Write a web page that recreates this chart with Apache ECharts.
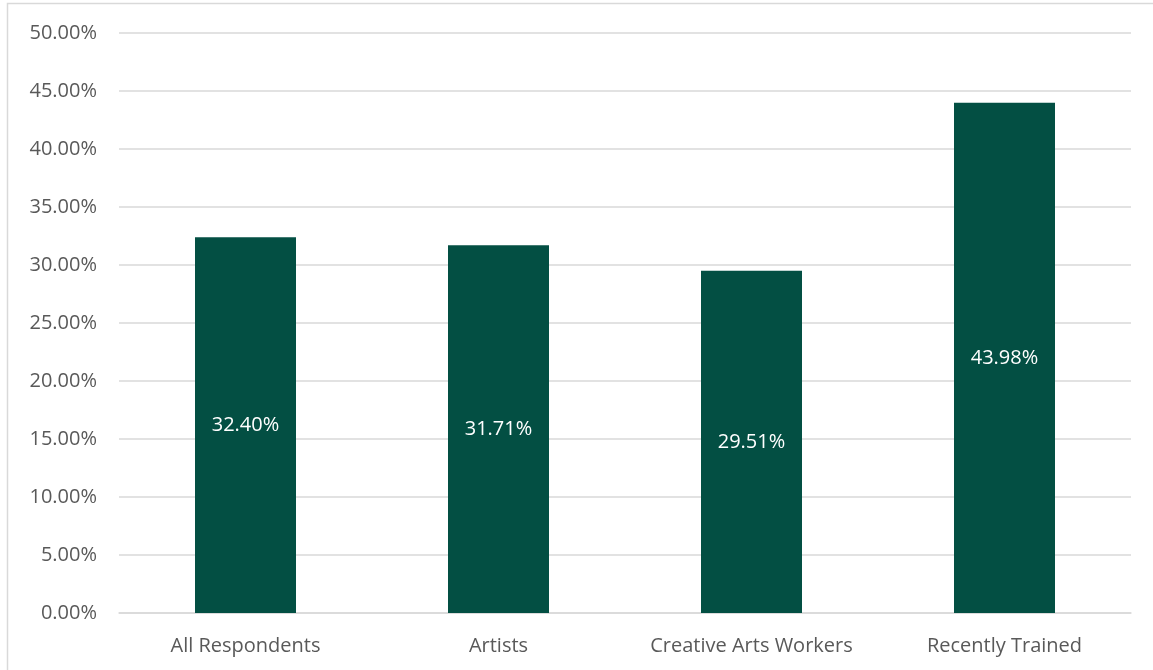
<!DOCTYPE html>
<html>
<head>
<meta charset="utf-8">
<script src="https://cdn.jsdelivr.net/npm/echarts@6/dist/echarts.min.js"></script>
<style>
  html, body { margin: 0; padding: 0; background: #fff; }
  #chart { width: 1153px; height: 670px; }
</style>
</head>
<body>
<div id="chart"></div>
<script>
// Share of respondents per group (percent)
const categories = ['All Respondents', 'Artists', 'Creative Arts Workers', 'Recently Trained'];
const shares = [32.40, 31.71, 29.51, 43.98];

const chart = echarts.init(document.getElementById('chart'), null, { renderer: 'canvas' });
const font = 'Open Sans, Noto Sans, Liberation Sans, sans-serif';

chart.setOption({
  animation: false,
  backgroundColor: '#ffffff',
  graphic: [{
    type: 'rect',
    shape: { x: 7.5, y: 3.5, width: 1300, height: 800 },
    style: { fill: 'none', stroke: '#d9d9d9', lineWidth: 1.5 },
    silent: true
  }],
  grid: { left: 119, right: 22, top: 33, bottom: 57, containLabel: false },
  xAxis: {
    type: 'category',
    data: categories,
    axisLine: { show: true, lineStyle: { color: '#d9d9d9', width: 1.5 } },
    axisTick: { show: false },
    axisLabel: {
      interval: 0, hideOverlap: false,
      color: '#595959', fontFamily: font, fontSize: 20, margin: 23
    }
  },
  yAxis: {
    type: 'value',
    min: 0,
    max: 50,
    interval: 5,
    axisLine: { show: false },
    axisTick: { show: false },
    splitLine: { lineStyle: { color: '#d9d9d9', width: 1.5 } },
    axisLabel: {
      color: '#595959', fontFamily: font, fontSize: 20, margin: 22,
      formatter: v => v.toFixed(2) + '%'
    }
  },
  series: [{
    type: 'bar',
    data: shares,
    barWidth: 101,
    itemStyle: { color: '#034F43' },
    label: {
      show: true,
      position: 'inside',
      color: '#ffffff',
      fontFamily: font,
      fontSize: 20,
      formatter: p => p.value.toFixed(2) + '%'
    }
  }]
});
</script>
</body>
</html>
